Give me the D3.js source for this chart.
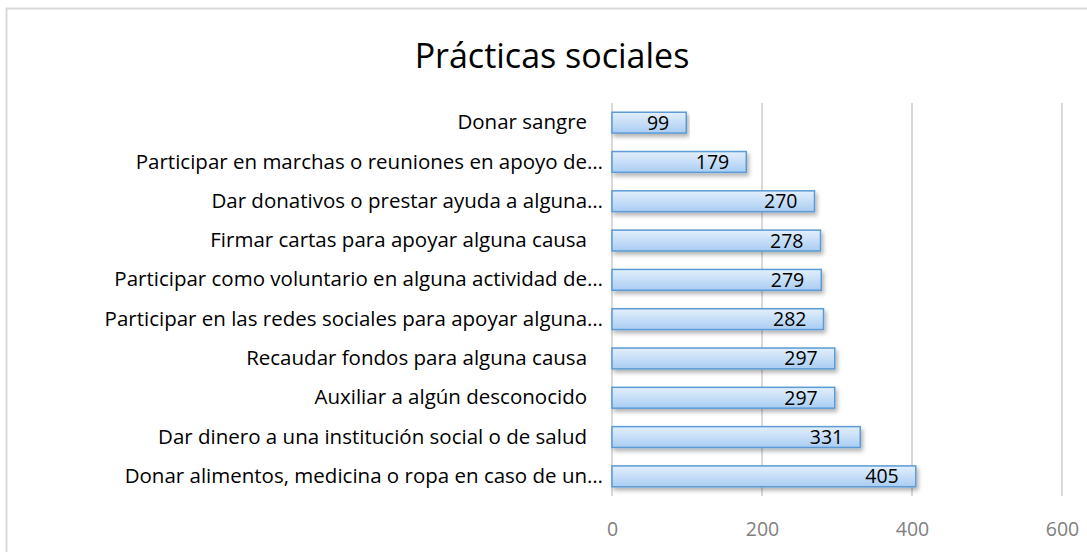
<!DOCTYPE html>
<html>
<head>
<meta charset="utf-8">
<script src="https://cdn.jsdelivr.net/npm/d3@7"></script>
<style>
  body { margin: 0; background: #fff; }
  svg text { font-family: "Open Sans", "Noto Sans", sans-serif; white-space: pre; }
</style>
</head>
<body>
<svg></svg>
<script>
const categories = [
  "Donar sangre   ",
  "Participar en marchas o reuniones en apoyo de…",
  "Dar donativos o prestar ayuda a alguna…",
  "Firmar cartas para apoyar alguna causa   ",
  "Participar como voluntario en alguna actividad de…",
  "Participar en las redes sociales para apoyar alguna…",
  "Recaudar fondos para alguna causa   ",
  "Auxiliar a algún desconocido   ",
  "Dar dinero a una institución social o de salud   ",
  "Donar alimentos, medicina o ropa en caso de un…"
];
const values = [99, 179, 270, 278, 279, 282, 297, 297, 331, 405];
const xTicks = [0, 200, 400, 600];
const title = "Prácticas sociales";

const width = 1087, height = 552;
const svg = d3.select("svg").attr("width", width).attr("height", height);

svg.append("rect")
    .attr("x", 6.5).attr("y", 8.5)
    .attr("width", width + 10).attr("height", height + 10)
    .attr("fill", "#fff")
    .attr("stroke", "#d9d9d9")
    .attr("stroke-width", 2);

const defs = svg.append("defs");
const grad = defs.append("linearGradient")
    .attr("id", "barFill")
    .attr("x1", 0).attr("y1", 0).attr("x2", 0).attr("y2", 1);
grad.append("stop").attr("offset", "0%").attr("stop-color", "#e3effc");
grad.append("stop").attr("offset", "100%").attr("stop-color", "#a9cdf3");

const shadow = defs.append("filter").attr("id", "shadow")
    .attr("x", "-5%").attr("y", "-30%").attr("width", "110%").attr("height", "180%");
shadow.append("feDropShadow")
    .attr("dx", 2).attr("dy", 3).attr("stdDeviation", 2)
    .attr("flood-color", "#000").attr("flood-opacity", 0.3);

const x = d3.scaleLinear().domain([0, 600]).range([612, 1062]);
const y = d3.scaleBand().domain(categories).range([103, 496])
    .paddingInner(0.47).paddingOuter(0.235);

svg.append("text")
    .attr("x", 552).attr("y", 68)
    .attr("text-anchor", "middle")
    .attr("font-size", 34)
    .attr("font-family", "Lato, 'Open Sans', sans-serif")
    .attr("fill", "#000")
    .text(title);

// gridlines
svg.append("g")
  .selectAll("line")
  .data(xTicks)
  .enter()
  .append("line")
    .attr("x1", d => x(d)).attr("x2", d => x(d))
    .attr("y1", 103).attr("y2", 496)
    .attr("stroke", "#d9d9d9")
    .attr("stroke-width", 2);

// x axis labels
const xAxis = svg.append("g")
    .attr("transform", "translate(0,529)")
    .call(d3.axisBottom(x).tickValues(xTicks).tickSize(0).tickPadding(0));
xAxis.select(".domain").remove();
xAxis.selectAll("text")
    .attr("font-size", 19.5)
    .attr("fill", "#808080")
    .attr("font-family", "'Open Sans', sans-serif")
    .attr("y", 0)
    .attr("dy", "0.36em");

const data = categories.map((c, i) => ({ cat: c, val: values[i] }));

svg.append("g")
  .selectAll("rect")
  .data(data)
  .enter()
  .append("rect")
    .attr("x", x(0))
    .attr("y", d => y(d.cat))
    .attr("width", d => x(d.val) - x(0))
    .attr("height", y.bandwidth())
    .attr("fill", "url(#barFill)")
    .attr("stroke", "#5b9bd5")
    .attr("stroke-width", 1.5)
    .attr("filter", "url(#shadow)");

svg.append("g")
  .selectAll("text")
  .data(data)
  .enter()
  .append("text")
    .attr("x", d => x(d.val) - 17)
    .attr("y", d => y(d.cat) + y.bandwidth() / 2)
    .attr("dy", "0.36em")
    .attr("text-anchor", "end")
    .attr("font-size", 19.5)
    .attr("fill", "#000")
    .text(d => d.val);

// category labels
const yAxis = svg.append("g")
    .attr("transform", `translate(${x(0)},0)`)
    .call(d3.axisLeft(y).tickSize(0).tickPadding(9));
yAxis.select(".domain").remove();
yAxis.selectAll("text")
    .attr("font-size", 20.5)
    .attr("fill", "#000")
    .attr("font-family", "'Open Sans', sans-serif");
</script>
</body>
</html>
